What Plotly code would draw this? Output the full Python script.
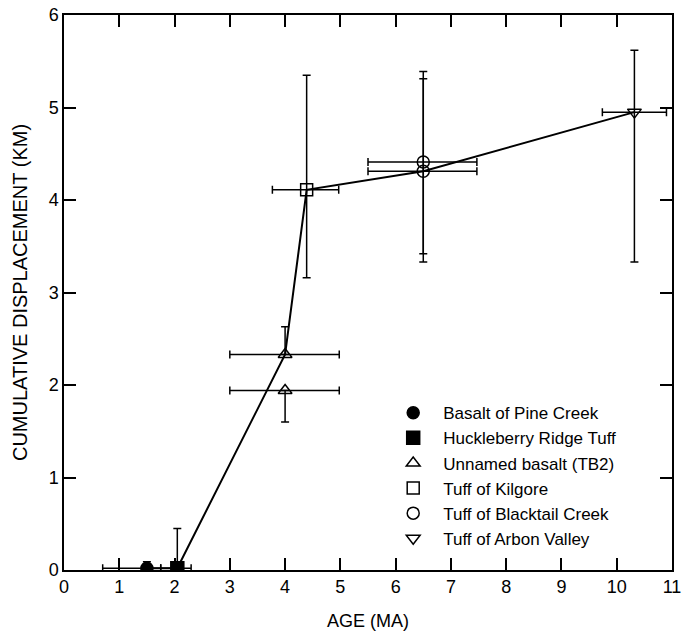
import plotly.graph_objects as go

# Data (age in Ma, cumulative displacement in km)
names = ["Basalt of Pine Creek", "Huckleberry Ridge Tuff", "Unnamed basalt (TB2)",
         "Tuff of Kilgore", "Tuff of Blacktail Creek", "Tuff of Arbon Valley"]
symbols = ["circle", "square", "triangle-up-open", "square-open", "circle-open", "triangle-down-open"]

ages = [[1.5], [2.05], [4.0, 4.0], [4.39], [6.5, 6.5], [10.32]]
disp = [[0.02], [0.02], [2.33, 1.94], [4.11], [4.41, 4.31], [4.95]]
age_lo = [[0.7], [1.75], [3.0, 3.0], [3.77], [5.5, 5.5], [9.74]]
age_hi = [[1.75], [2.3], [4.98, 4.98], [4.97], [7.47, 7.47], [10.9]]
disp_lo = [[0.0], [0.0], [2.33, 1.6], [3.16], [3.42, 3.33], [3.33]]
disp_hi = [[0.09], [0.45], [2.63, 1.94], [5.35], [5.39, 5.31], [5.62]]

# Connecting line through the preferred points
line_age = [1.5, 2.05, 4.0, 4.39, 6.5, 10.32]
line_disp = [0.02, 0.02, 2.33, 4.11, 4.31, 4.95]

x_ticks = list(range(0, 12))
y_ticks = list(range(0, 7))

fig = go.Figure()
fig.add_trace(go.Scatter(x=line_age, y=line_disp, mode="lines",
                         line=dict(color="black", width=2), showlegend=False, hoverinfo="skip"))

for i, n in enumerate(names):
    ex_p = [h - a for h, a in zip(age_hi[i], ages[i])]
    ex_m = [a - l for l, a in zip(age_lo[i], ages[i])]
    ey_p = [h - d for h, d in zip(disp_hi[i], disp[i])]
    ey_m = [d - l for l, d in zip(disp_lo[i], disp[i])]
    fig.add_trace(go.Scatter(
        x=ages[i], y=disp[i], mode="markers", name=n,
        marker=dict(symbol=symbols[i], size=12 if i != 1 else 13, color="black",
                    line=dict(color="black", width=1.5)),
        error_x=dict(type="data", symmetric=False, array=ex_p, arrayminus=ex_m,
                     color="black", thickness=1.5, width=4),
        error_y=dict(type="data", symmetric=False, array=ey_p, arrayminus=ey_m,
                     color="black", thickness=1.5, width=4),
    ))

font = "Liberation Sans, Arial, Helvetica, sans-serif"
fig.update_layout(
    width=683, height=634,
    margin=dict(l=64, r=11, t=15, b=64),
    paper_bgcolor="white", plot_bgcolor="white",
    font=dict(family=font, size=18, color="black"),
    xaxis=dict(range=[0, 11], tickvals=x_ticks, ticks="inside", ticklen=12, tickwidth=1.5,
               tickcolor="black", showline=True, linecolor="black", linewidth=1.5,
               mirror="allticks", showgrid=False, zeroline=False, automargin=False,
               tickfont=dict(size=18), ticklabeloverflow="allow",
               title=dict(text="AGE (MA)", font=dict(size=18), standoff=18)),
    yaxis=dict(range=[0, 6], tickvals=y_ticks, ticks="inside", ticklen=12, tickwidth=1.5,
               tickcolor="black", showline=True, linecolor="black", linewidth=1.5,
               mirror="allticks", showgrid=False, zeroline=False, automargin=False,
               tickfont=dict(size=18),
               title=dict(text="CUMULATIVE DISPLACEMENT (KM)", font=dict(size=20), standoff=16)),
    legend=dict(x=0.525, y=0.315, xanchor="left", yanchor="top", bgcolor="rgba(0,0,0,0)",
                font=dict(size=17), itemsizing="trace", itemwidth=50),
)

fig.write_html("out.html")
